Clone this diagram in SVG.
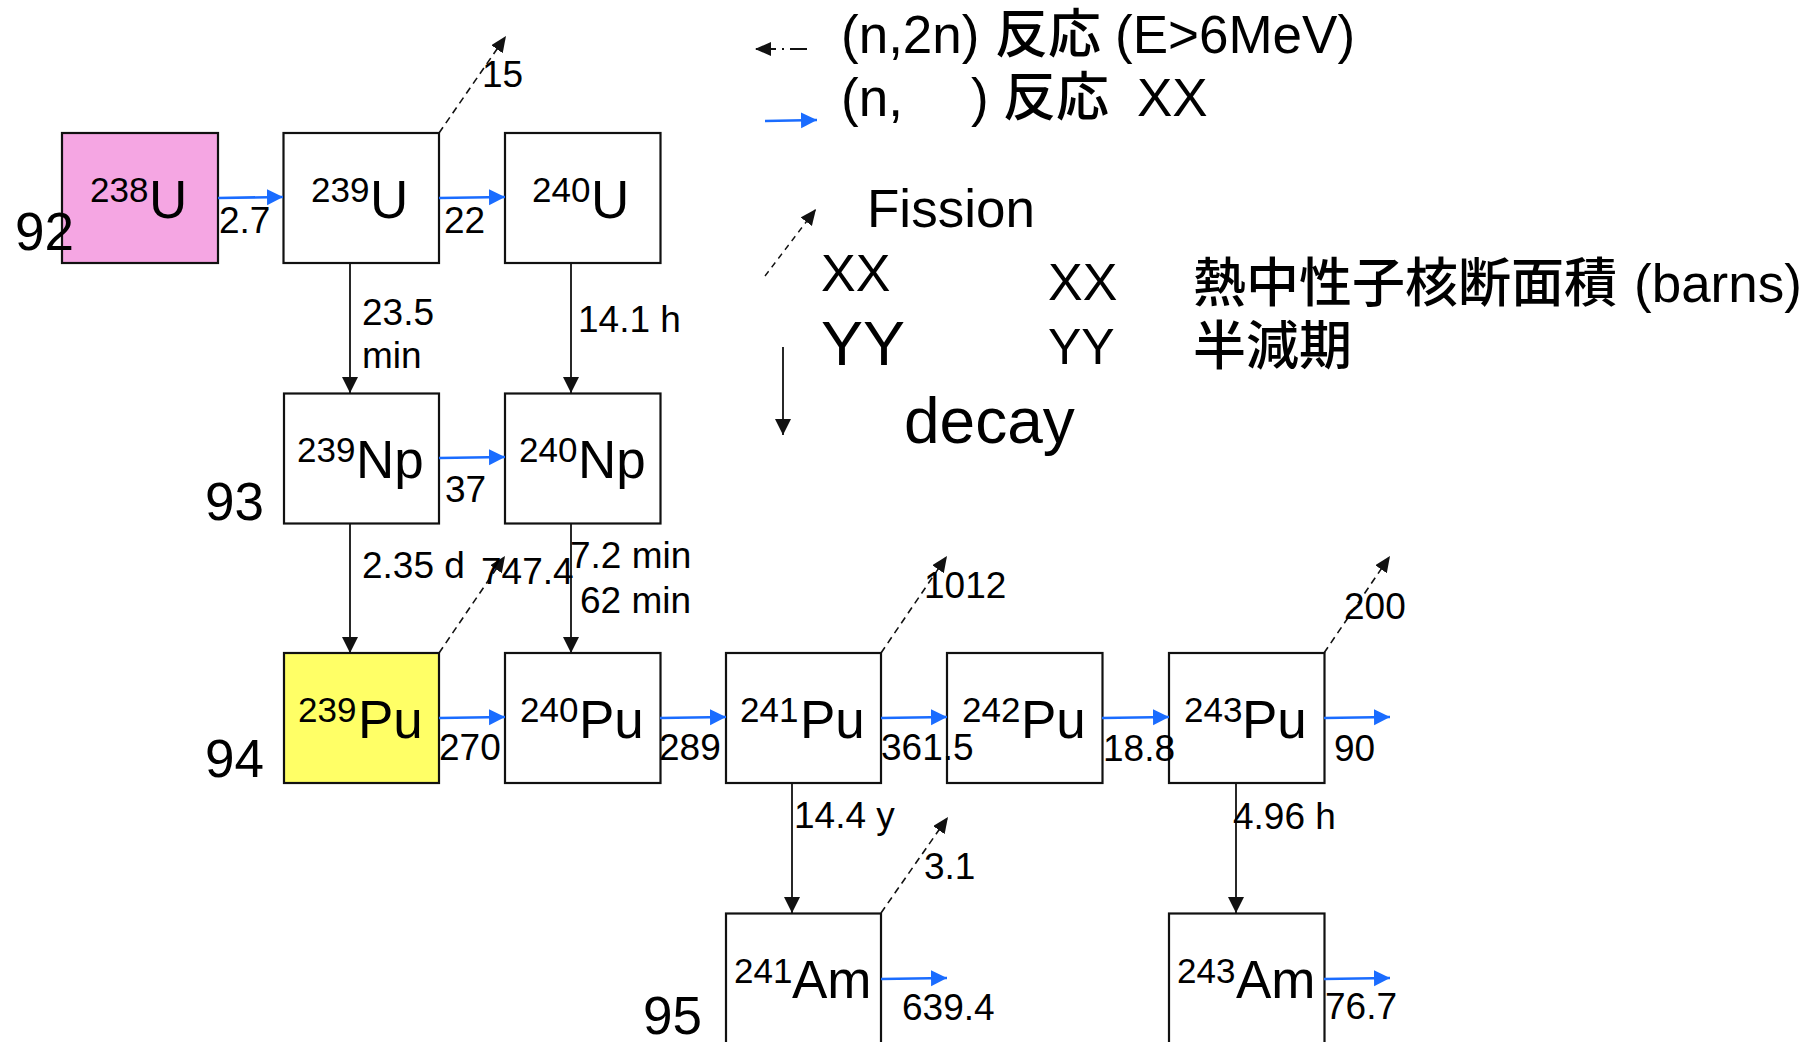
<svg xmlns="http://www.w3.org/2000/svg" width="1804" height="1042" viewBox="0 0 1804 1042">
<style>
text{font-family:"Liberation Sans","Noto Sans CJK JP",Arial,sans-serif;fill:#000}
.box{fill:#fff;stroke:#111;stroke-width:2.2}
.sup{font-size:35px}
.el{font-size:53px}
.num{font-size:37px}
.big{font-size:53px}
.cap{font-size:53px}
.cjk{font-family:"Noto Sans CJK JP",sans-serif;font-weight:500}
.blue{stroke:#1a6cff;stroke-width:2.6;fill:none}
.decay{stroke:#111;stroke-width:1.8;fill:none}
.fis{stroke:#111;stroke-width:1.6;fill:none;stroke-dasharray:7,5}
</style>
<defs>
<marker id="mb" markerUnits="userSpaceOnUse" markerWidth="20" markerHeight="20" refX="16" refY="8" orient="auto"><path d="M0,0 L16,8 L0,16 Z" fill="#1a6cff"/></marker>
<marker id="mk" markerUnits="userSpaceOnUse" markerWidth="20" markerHeight="20" refX="16" refY="8" orient="auto"><path d="M0,0 L16,8 L0,16 Z" fill="#111"/></marker>
<marker id="mf" markerUnits="userSpaceOnUse" markerWidth="20" markerHeight="20" refX="16" refY="7" orient="auto"><path d="M0,0 L16,7 L0,14 Z" fill="#111"/></marker>
</defs>

<g id="U238"><rect class="box" x="62" y="133" width="156" height="130" style="fill:#f5a6e3"/><text><tspan class="sup" x="90" y="202">238</tspan><tspan class="el" x="149" y="218">U</tspan></text></g>
<g id="U239"><rect class="box" x="283.5" y="133" width="155.5" height="130"/><text><tspan class="sup" x="311" y="202">239</tspan><tspan class="el" x="370" y="218">U</tspan></text></g>
<g id="U240"><rect class="box" x="505" y="133" width="155.5" height="130"/><text><tspan class="sup" x="532" y="202">240</tspan><tspan class="el" x="591" y="218">U</tspan></text></g>

<g id="Np239"><rect class="box" x="284" y="393.5" width="155" height="130"/><text><tspan class="sup" x="297" y="462">239</tspan><tspan class="el" x="356" y="478">Np</tspan></text></g>
<g id="Np240"><rect class="box" x="505" y="393.5" width="155.5" height="130"/><text><tspan class="sup" x="519" y="462">240</tspan><tspan class="el" x="578" y="478">Np</tspan></text></g>

<g id="Pu239"><rect class="box" x="284" y="653" width="155" height="130" style="fill:#ffff66"/><text><tspan class="sup" x="298" y="722">239</tspan><tspan class="el" x="358" y="738">Pu</tspan></text></g>
<g id="Pu240"><rect class="box" x="505" y="653" width="155.5" height="130"/><text><tspan class="sup" x="520" y="722">240</tspan><tspan class="el" x="579" y="738">Pu</tspan></text></g>
<g id="Pu241"><rect class="box" x="726" y="653" width="155" height="130"/><text><tspan class="sup" x="740" y="722">241</tspan><tspan class="el" x="800" y="738">Pu</tspan></text></g>
<g id="Pu242"><rect class="box" x="947" y="653" width="155.5" height="130"/><text><tspan class="sup" x="962" y="722">242</tspan><tspan class="el" x="1021" y="738">Pu</tspan></text></g>
<g id="Pu243"><rect class="box" x="1169" y="653" width="155.5" height="130"/><text><tspan class="sup" x="1184" y="722">243</tspan><tspan class="el" x="1242" y="738">Pu</tspan></text></g>

<g id="Am241"><rect class="box" x="726" y="913.5" width="155" height="140"/><text><tspan class="sup" x="734" y="983">241</tspan><tspan class="el" x="792" y="998">Am</tspan></text></g>
<g id="Am243"><rect class="box" x="1169" y="913.5" width="155.5" height="140"/><text><tspan class="sup" x="1177" y="983">243</tspan><tspan class="el" x="1236" y="998">Am</tspan></text></g>

<g id="row-labels">
<text class="big" x="15" y="250">92</text>
<text class="big" x="205" y="520">93</text>
<text class="big" x="205" y="777">94</text>
<text class="big" x="643" y="1034">95</text>
</g>

<g id="connectors">
<line class="blue" x1="218" y1="198" x2="283" y2="197" marker-end="url(#mb)"/>
<line class="blue" x1="439" y1="198" x2="505" y2="197" marker-end="url(#mb)"/>
<line class="blue" x1="439" y1="458" x2="505" y2="457" marker-end="url(#mb)"/>
<line class="blue" x1="439" y1="718" x2="505" y2="717" marker-end="url(#mb)"/>
<line class="blue" x1="660" y1="718" x2="726" y2="717" marker-end="url(#mb)"/>
<line class="blue" x1="881" y1="718" x2="947" y2="717" marker-end="url(#mb)"/>
<line class="blue" x1="1102" y1="718" x2="1169" y2="717" marker-end="url(#mb)"/>
<line class="blue" x1="1324" y1="718" x2="1390" y2="717" marker-end="url(#mb)"/>
<line class="blue" x1="881" y1="979" x2="947" y2="978" marker-end="url(#mb)"/>
<line class="blue" x1="1324" y1="979" x2="1390" y2="978" marker-end="url(#mb)"/>

<line class="decay" x1="350" y1="263" x2="350" y2="393" marker-end="url(#mk)"/>
<line class="decay" x1="571" y1="263" x2="571" y2="393" marker-end="url(#mk)"/>
<line class="decay" x1="350" y1="523" x2="350" y2="653" marker-end="url(#mk)"/>
<line class="decay" x1="571" y1="523" x2="571" y2="653" marker-end="url(#mk)"/>
<line class="decay" x1="792" y1="783" x2="792" y2="913" marker-end="url(#mk)"/>
<line class="decay" x1="1236" y1="783" x2="1236" y2="913" marker-end="url(#mk)"/>

<line class="fis" x1="439" y1="133" x2="506" y2="36" marker-end="url(#mf)"/>
<line class="fis" x1="439" y1="653" x2="505" y2="556" marker-end="url(#mf)"/>
<line class="fis" x1="881" y1="653" x2="947" y2="556" marker-end="url(#mf)"/>
<line class="fis" x1="1324" y1="653" x2="1390" y2="556" marker-end="url(#mf)"/>
<line class="fis" x1="881" y1="913" x2="948" y2="817" marker-end="url(#mf)"/>
</g>

<g id="edge-labels">
<text class="num" x="219" y="233">2.7</text>
<text class="num" x="444" y="233">22</text>
<text class="num" x="362" y="325">23.5</text>
<text class="num" x="362" y="368">min</text>
<text class="num" x="578" y="332">14.1 h</text>
<text class="num" x="482" y="87">15</text>
<text class="num" x="445" y="502">37</text>
<text class="num" x="362" y="578">2.35 d</text>
<text class="num" x="481" y="584">747.4</text>
<text class="num" x="570" y="568">7.2 min</text>
<text class="num" x="580" y="613">62 min</text>
<text class="num" x="439" y="760">270</text>
<text class="num" x="659" y="760">289</text>
<text class="num" x="881" y="760">361.5</text>
<text class="num" x="1103" y="761">18.8</text>
<text class="num" x="1334" y="761">90</text>
<text class="num" x="924" y="598">1012</text>
<text class="num" x="1344" y="619">200</text>
<text class="num" x="794" y="828">14.4 y</text>
<text class="num" x="1233" y="829">4.96 h</text>
<text class="num" x="924" y="879">3.1</text>
<text class="num" x="902" y="1020">639.4</text>
<text class="num" x="1325" y="1019">76.7</text>
</g>

<g id="legend">
<line x1="807" y1="49" x2="755" y2="49" stroke="#111" stroke-width="1.8" stroke-dasharray="17,6,2,6,20" marker-end="url(#mf)"/>
<text class="cap" x="841" y="53">(n,2n)</text>
<text class="cap cjk" x="995" y="53">反応</text>
<text class="cap" x="1115" y="53">(E&gt;6MeV)</text>
<line class="blue" x1="765" y1="121" x2="817" y2="120" marker-end="url(#mb)"/>
<text class="cap" x="841" y="116">(n,</text>
<text class="cap" x="971" y="116">)</text>
<text class="cap cjk" x="1003" y="116">反応</text>
<text class="cap" x="1137" y="116">XX</text>
<line class="fis" x1="765" y1="276" x2="816" y2="209" marker-end="url(#mf)" style="stroke-dasharray:6,5;stroke-width:1.4"/>
<text class="cap" x="867" y="227">Fission</text>
<text font-size="52" x="821" y="291">XX</text>
<text font-size="63" x="821" y="365">YY</text>
<text font-size="52" x="1048" y="300">XX</text>
<text font-size="50" x="1048" y="364">YY</text>
<text class="cap cjk" x="1193" y="302">熱中性子核断面積</text>
<text class="cap" x="1634" y="302">(barns)</text>
<text class="cap cjk" x="1193" y="365">半減期</text>
<line class="decay" x1="783" y1="347" x2="783" y2="435" marker-end="url(#mk)"/>
<text font-size="64" x="904" y="443">decay</text>
</g>
</svg>
